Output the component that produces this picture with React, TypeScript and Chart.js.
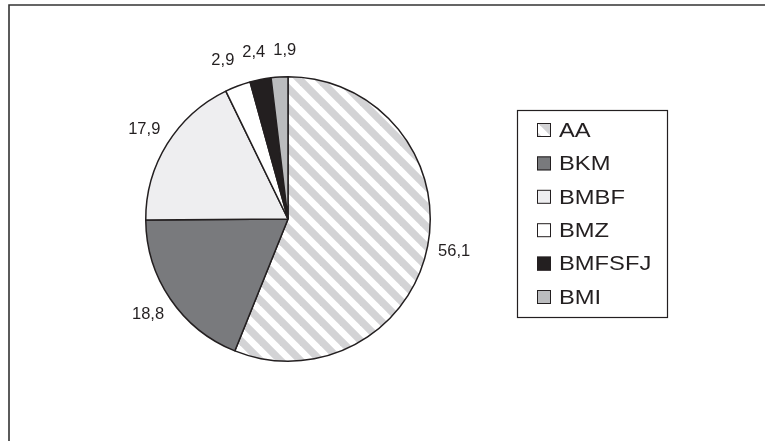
import React, { useEffect, useRef } from "react";
import { Chart, registerables } from "chart.js";

Chart.register(...registerables);

const categories = ["AA", "BKM", "BMBF", "BMZ", "BMFSFJ", "BMI"];
const shares = [56.1, 18.8, 17.9, 2.9, 2.4, 1.9];
const valueLabels = ["56,1", "18,8", "17,9", "2,9", "2,4", "1,9"];
const solidColors = ["#d3d3d5", "#797a7d", "#eeeef0", "#ffffff", "#231f20", "#bbbcbe"];
const stripedSlices = [true, false, false, false, false, false];

const W = 765;
const H = 441;
const FONT = "'Liberation Sans', Arial, Helvetica, sans-serif";

function makeStripes(): CanvasPattern | string {
  const P = 20;
  const c = document.createElement("canvas");
  c.width = P;
  c.height = P;
  const g = c.getContext("2d");
  if (!g) return "#d3d3d5";
  g.fillStyle = "#ffffff";
  g.fillRect(0, 0, P, P);
  g.strokeStyle = "#d3d3d5";
  g.lineWidth = 7.5;
  for (const off of [-P, 0, P]) {
    g.beginPath();
    g.moveTo(off - P, -P);
    g.lineTo(off + 2 * P, 2 * P);
    g.stroke();
  }
  const pat = g.createPattern(c, "repeat");
  return pat || "#d3d3d5";
}

const framePlugin = {
  id: "frame",
  beforeDraw(chart: any) {
    const ctx = chart.ctx;
    ctx.save();
    ctx.fillStyle = "#ffffff";
    ctx.fillRect(0, 0, W, H);
    ctx.strokeStyle = "#333333";
    ctx.lineWidth = 1.6;
    ctx.beginPath();
    ctx.moveTo(9, H + 5);
    ctx.lineTo(9, 5);
    ctx.lineTo(W + 5, 5);
    ctx.stroke();
    ctx.restore();
  },
};

const valueLabelPlugin = {
  id: "valueLabels",
  afterDatasetsDraw(chart: any) {
    const ctx = chart.ctx;
    const meta = chart.getDatasetMeta(0);
    ctx.save();
    ctx.fillStyle = "#231f20";
    ctx.font = `16.5px ${FONT}`;
    ctx.textAlign = "center";
    ctx.textBaseline = "middle";
    const boxes = meta.data.map((arc: any, i: number) => {
      const p = arc.getProps(["x", "y", "startAngle", "endAngle", "outerRadius"], true);
      const mid = (p.startAngle + p.endAngle) / 2;
      const r = p.outerRadius + 27;
      const w = ctx.measureText(valueLabels[i]).width;
      return { x: p.x + Math.cos(mid) * r, y: p.y + Math.sin(mid) * r, w, h: 13 };
    });
    // separate overlapping labels horizontally
    const gap = 8;
    for (let it = 0; it < 20; it++) {
      for (let a = 0; a < boxes.length; a++) {
        for (let b = a + 1; b < boxes.length; b++) {
          const A = boxes[a];
          const B = boxes[b];
          if (Math.abs(A.y - B.y) >= (A.h + B.h) / 2) continue;
          const need = (A.w + B.w) / 2 + gap;
          const d = B.x - A.x;
          if (Math.abs(d) < need) {
            const push = (need - Math.abs(d)) / 2;
            const s = d >= 0 ? 1 : -1;
            A.x -= s * push;
            B.x += s * push;
          }
        }
      }
    }
    boxes.forEach((bx: any, i: number) => ctx.fillText(valueLabels[i], bx.x, bx.y));
    ctx.restore();
  },
};

const boxLegendPlugin = {
  id: "boxLegend",
  afterDraw(chart: any) {
    const ctx = chart.ctx;
    const bg = chart.data.datasets[0].backgroundColor;
    const bx = 517.5;
    const by = 110.5;
    const bw = 150;
    const bh = 207;
    ctx.save();
    ctx.strokeStyle = "#231f20";
    ctx.lineWidth = 1.2;
    ctx.strokeRect(bx, by, bw, bh);
    ctx.font = `21px ${FONT}`;
    ctx.textBaseline = "middle";
    ctx.textAlign = "left";
    categories.forEach((name, i) => {
      const cy = 130 + i * 33.4;
      ctx.fillStyle = bg[i];
      ctx.fillRect(537, cy - 7, 14, 14);
      ctx.strokeStyle = "#231f20";
      ctx.lineWidth = 1;
      ctx.strokeRect(537.5, cy - 6.5, 13, 13);
      ctx.fillStyle = "#231f20";
      ctx.save();
      ctx.translate(559, cy + 1);
      ctx.scale(1.13, 1);
      ctx.fillText(name, 0, 0);
      ctx.restore();
    });
    ctx.restore();
  },
};

export default function App() {
  const ref = useRef<HTMLCanvasElement | null>(null);

  useEffect(() => {
    const canvas = ref.current;
    if (!canvas) return;
    const stripes = makeStripes();
    const colors = solidColors.map((c, i) => (stripedSlices[i] ? stripes : c));
    const chart = new Chart(canvas, {
      type: "pie",
      data: {
        labels: categories,
        datasets: [
          {
            data: shares,
            backgroundColor: colors as any,
            borderColor: "#231f20",
            borderWidth: 1.5,
            hoverOffset: 0,
          },
        ],
      },
      options: {
        responsive: false,
        animation: false,
        devicePixelRatio: 1,
        events: [],
        layout: { padding: { left: 145, right: 334, top: 76, bottom: 79 } },
        plugins: {
          legend: { display: false },
          tooltip: { enabled: false },
          title: { display: false },
        },
      },
      plugins: [framePlugin, valueLabelPlugin, boxLegendPlugin],
    });
    return () => chart.destroy();
  }, []);

  return (
    <div style={{ position: "fixed", left: 0, top: 0, width: W, height: H, background: "#fff" }}>
      <canvas ref={ref} width={W} height={H} style={{ width: W, height: H, display: "block" }} />
    </div>
  );
}
